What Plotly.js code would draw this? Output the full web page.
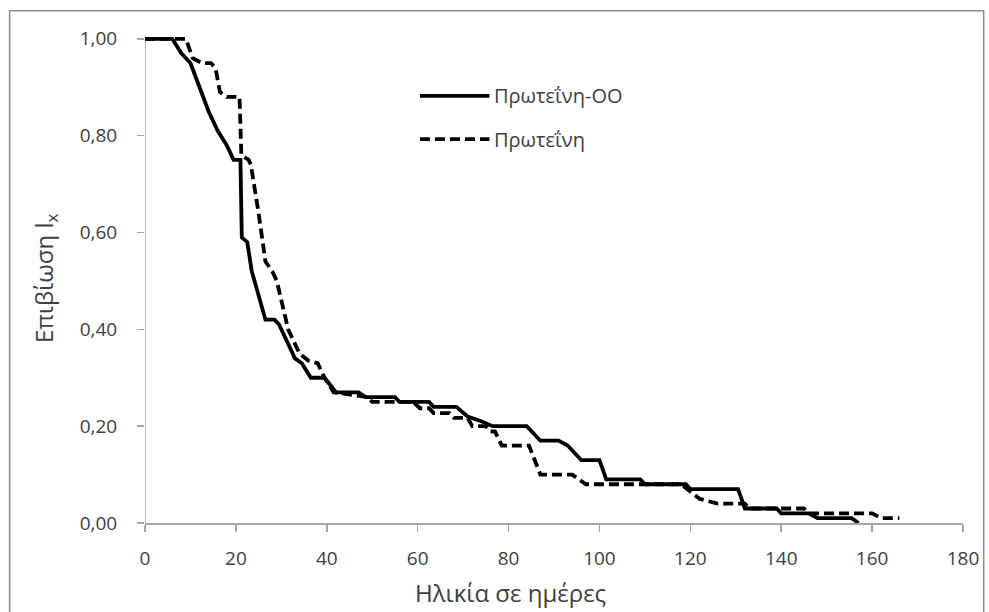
<!DOCTYPE html>
<html>
<head>
<meta charset="utf-8">
<script src="https://cdn.plot.ly/plotly-3.0.1.min.js"></script>
<style>
html,body{margin:0;padding:0;background:#fff;}
#chart{width:989px;height:612px;}
</style>
</head>
<body>
<div id="chart"></div>
<script>
// Πρωτεΐνη-ΟΟ (solid)
const ooDays = [0, 6, 8, 10, 12, 14, 16, 18, 19.5, 21, 21.3, 22.5, 23.5, 25, 26.5, 28.5, 29.5, 31, 33, 34.5, 36.5, 39.5, 42, 47, 48.5, 55, 56, 62.5, 63.5, 68.5, 71, 74, 76.5, 84, 87, 91, 93, 96, 100, 101.5, 109, 110, 119, 120, 130.5, 132, 139, 140, 146, 148, 155.5, 157];
const ooSurv = [1, 1, 0.97, 0.95, 0.90, 0.85, 0.81, 0.78, 0.75, 0.75, 0.59, 0.58, 0.52, 0.47, 0.42, 0.42, 0.41, 0.38, 0.34, 0.33, 0.30, 0.30, 0.27, 0.27, 0.26, 0.26, 0.25, 0.25, 0.24, 0.24, 0.22, 0.21, 0.20, 0.20, 0.17, 0.17, 0.16, 0.13, 0.13, 0.09, 0.09, 0.08, 0.08, 0.07, 0.07, 0.03, 0.03, 0.02, 0.02, 0.01, 0.01, 0];
// Πρωτεΐνη (dashed)
const prDays = [0, 9, 10.5, 12.5, 14.5, 15.5, 16.5, 18, 20.8, 21.2, 22.8, 23.3, 25, 26.5, 28, 29, 31.5, 34, 36, 38, 39.5, 41.5, 49, 50, 59, 60.5, 62.5, 63.5, 67, 68, 71, 72, 75, 76, 77, 78.5, 84.5, 87, 94, 97, 118, 122, 126, 132, 133, 145, 146, 160, 162, 166];
const prSurv = [1, 1, 0.96, 0.95, 0.95, 0.94, 0.89, 0.88, 0.88, 0.76, 0.75, 0.74, 0.64, 0.54, 0.52, 0.50, 0.40, 0.35, 0.335, 0.33, 0.30, 0.27, 0.26, 0.25, 0.25, 0.237, 0.237, 0.227, 0.227, 0.217, 0.217, 0.20, 0.20, 0.189, 0.189, 0.16, 0.16, 0.10, 0.10, 0.08, 0.08, 0.05, 0.04, 0.04, 0.03, 0.03, 0.02, 0.02, 0.01, 0.01];
const seriesNames = ['Πρωτεΐνη-ΟΟ', 'Πρωτεΐνη'];
const xTicks = [0, 20, 40, 60, 80, 100, 120, 140, 160, 180];
const yTicks = [0, 0.2, 0.4, 0.6, 0.8, 1.0];
const yTickText = ['0,00', '0,20', '0,40', '0,60', '0,80', '1,00'];
const xTitle = 'Ηλικία σε ημέρες';
const yTitle = 'Επιβίωση l<sub>x</sub>';

const FONT = '"Open Sans", "DejaVu Sans", sans-serif';
const TXT = '#404040';
const AX = '#a6a6a6';

const traces = [
  {x: ooDays, y: ooSurv, name: seriesNames[0], mode: 'lines', type: 'scatter',
   line: {color: '#000', width: 3.8}},
  {x: prDays, y: prSurv, name: seriesNames[1], mode: 'lines', type: 'scatter',
   line: {color: '#000', width: 3.8, dash: '10px,5px'}}
];

const layout = {
  width: 989, height: 612,
  margin: {l: 144.5, r: 25.7, t: 34.2, b: 88.7},
  paper_bgcolor: '#fff', plot_bgcolor: '#fff',
  showlegend: false,
  font: {family: FONT, color: TXT, size: 19},
  xaxis: {range: [0, 180], tickvals: xTicks, ticktext: xTicks.map(String),
    showgrid: false, zeroline: false, showline: true, linecolor: AX, linewidth: 1.5,
    ticks: 'outside', ticklen: 7, tickcolor: AX, tickwidth: 1.5,
    tickfont: {family: FONT, size: 19, color: TXT}, ticklabelstandoff: 11, fixedrange: true},
  yaxis: {range: [0, 1.01], tickvals: yTicks, ticktext: yTickText,
    showgrid: false, zeroline: false, showline: false,
    ticks: 'outside', ticklen: 7, tickcolor: AX, tickwidth: 1.5,
    tickfont: {family: FONT, size: 19, color: TXT}, ticklabelstandoff: 16, fixedrange: true},
  shapes: [
    {type: 'line', xref: 'x', yref: 'y', x0: 0, x1: 0, y0: 0, y1: 1,
     line: {color: AX, width: 1.5}, layer: 'below'},
    {type: 'rect', xref: 'paper', yref: 'paper', x0: -0.1655, x1: 1.0253, y0: -0.19, y1: 1.0474,
     line: {color: '#8c8c8c', width: 1.5}, fillcolor: 'rgba(0,0,0,0)', layer: 'below'},
    {type: 'line', xref: 'x', yref: 'y', x0: 60.5, x1: 75.8, y0: 0.882, y1: 0.882,
     line: {color: '#000', width: 3.8}},
    {type: 'line', xref: 'x', yref: 'y', x0: 60.5, x1: 75.8, y0: 0.793, y1: 0.793,
     line: {color: '#000', width: 3.8, dash: '10px,5px'}}
  ],
  annotations: [
    {text: seriesNames[0], xref: 'x', yref: 'y', x: 76.4, y: 0.882, xanchor: 'left', yanchor: 'middle',
     showarrow: false, font: {family: FONT, size: 20, color: TXT}},
    {text: seriesNames[1], xref: 'x', yref: 'y', x: 76.4, y: 0.793, xanchor: 'left', yanchor: 'middle',
     showarrow: false, font: {family: FONT, size: 20, color: TXT}},
    {text: xTitle, xref: 'paper', yref: 'paper', x: (510 - 144.5) / 818.8, y: -0.1425,
     xanchor: 'center', yanchor: 'middle', showarrow: false, font: {family: FONT, size: 24, color: TXT}},
    {text: yTitle, xref: 'paper', yref: 'paper', x: (44 - 144.5) / 818.8, y: 0.5, textangle: -90,
     xanchor: 'center', yanchor: 'middle', showarrow: false, font: {family: FONT, size: 24, color: TXT}}
  ]
};

Plotly.newPlot('chart', traces, layout, {displayModeBar: false, staticPlot: true});
</script>
</body>
</html>
